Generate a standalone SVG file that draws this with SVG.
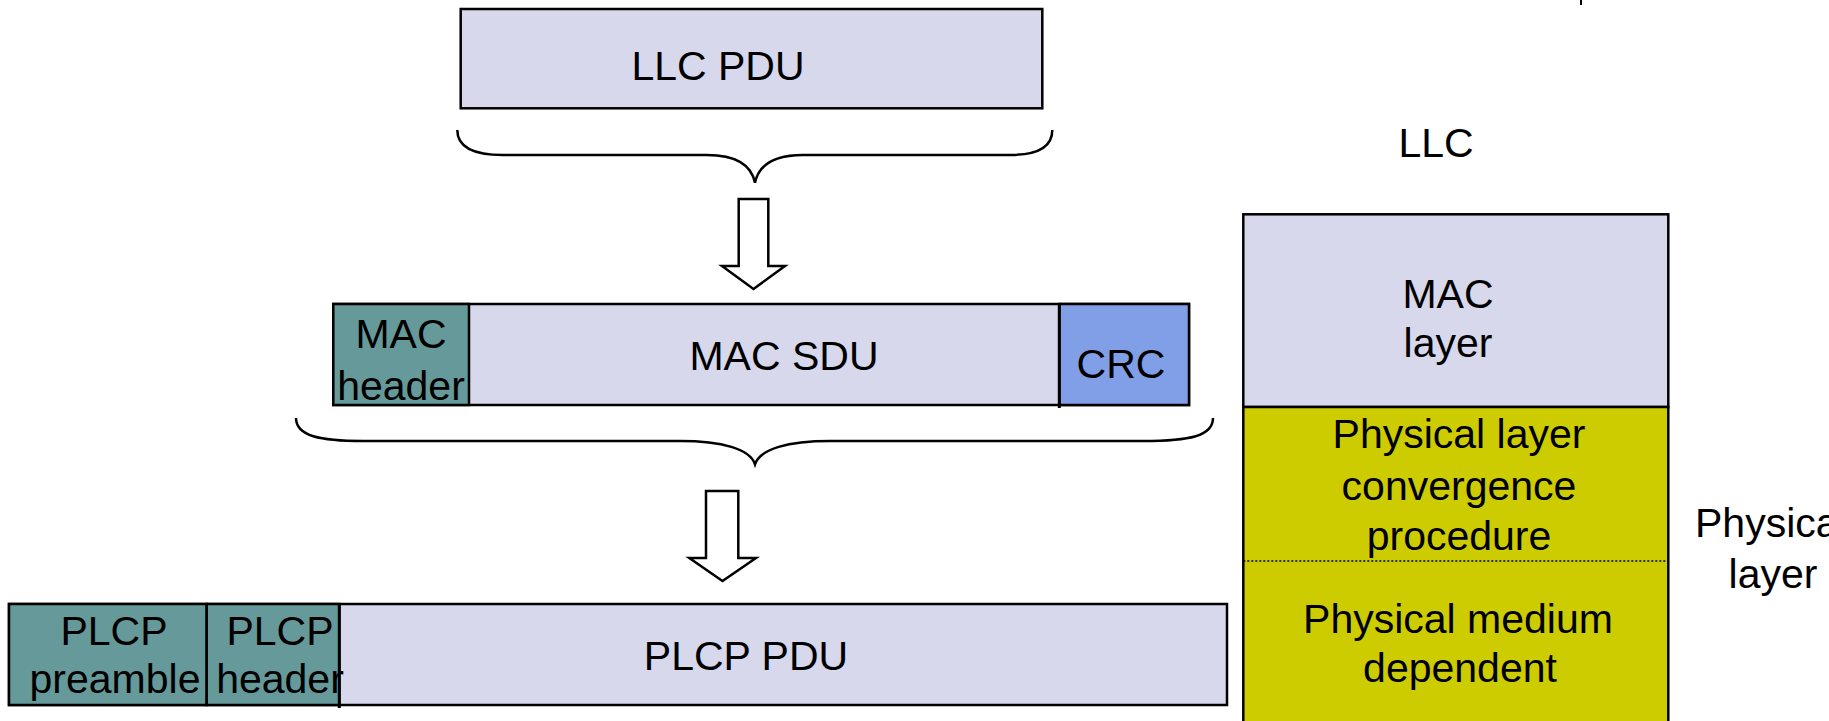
<svg xmlns="http://www.w3.org/2000/svg" width="1829" height="721" viewBox="0 0 1829 721">
  <style>
    text { font-family: "Liberation Sans", Arial, sans-serif; font-size: 41px; fill: #000; }
    .mid { text-anchor: middle; }
    .box { stroke: #000; stroke-width: 2.5; }
    .lav { fill: #D7D8EC; }
    .teal { fill: #669999; }
    .crc { fill: #809FE6; }
    .ylw { fill: #CCCC00; }
    .div { stroke: #000; stroke-width: 3; }
    .brace { fill: none; stroke: #000; stroke-width: 2.5; }
    .arrow { fill: #fff; stroke: #000; stroke-width: 2.5; stroke-linejoin: miter; }
  </style>

  <rect width="1829" height="721" fill="#fff"/>

  <!-- small stroke at the top edge -->
  <rect x="1580" y="0" width="2" height="5" fill="#000"/>

  <!-- LLC frame -->
  <g id="llc-pdu">
    <rect class="box lav" x="460.7" y="9" width="581.6" height="99.3"/>
    <text class="mid" x="718" y="80">LLC PDU</text>
  </g>

  <!-- MAC frame -->
  <g id="mac-frame">
    <rect class="box lav" x="333.3" y="304" width="855.7" height="101"/>
    <text class="mid" x="784" y="370">MAC SDU</text>
  </g>
  <g id="mac-header">
    <rect class="box teal" x="333.3" y="304" width="135.7" height="101"/>
    <text class="mid" x="401" y="348">MAC</text>
    <text class="mid" x="401" y="400">header</text>
  </g>
  <g id="crc">
    <rect class="box crc" x="1059.3" y="304" width="129.7" height="101"/>
    <line class="div" x1="1059.3" y1="303" x2="1059.3" y2="408"/>
    <text class="mid" x="1121" y="378">CRC</text>
  </g>

  <!-- PLCP frame -->
  <g id="plcp-frame">
    <rect class="box lav" x="9" y="604" width="1218" height="101"/>
    <text class="mid" x="746" y="670">PLCP PDU</text>
  </g>
  <g id="plcp-preamble">
    <rect class="box teal" x="9" y="604" width="197.7" height="101"/>
    <text class="mid" x="114" y="645">PLCP</text>
    <text class="mid" x="115" y="693">preamble</text>
  </g>
  <g id="plcp-header">
    <rect class="box teal" x="206.7" y="604" width="132.6" height="101"/>
    <line class="div" x1="339.3" y1="603" x2="339.3" y2="708"/>
    <text class="mid" x="280" y="645">PLCP</text>
    <text class="mid" x="280" y="693">header</text>
  </g>

  <!-- layer stack -->
  <g id="llc-label">
    <text class="mid" x="1436" y="157">LLC</text>
  </g>
  <g id="mac-layer">
    <rect class="box lav" x="1243.3" y="214.3" width="425" height="192.7"/>
    <text class="mid" x="1448" y="308">MAC</text>
    <text class="mid" x="1448" y="357">layer</text>
  </g>
  <g id="phy-layer">
    <rect class="box ylw" x="1243.3" y="407" width="425" height="330"/>
    <line x1="1243.3" y1="561" x2="1668.3" y2="561" stroke="#000" stroke-width="1.6" stroke-dasharray="2,2"/>
  </g>
  <g id="plcp-sublayer">
    <text class="mid" x="1459" y="448">Physical layer</text>
    <text class="mid" x="1459" y="500">convergence</text>
    <text class="mid" x="1459" y="550">procedure</text>
  </g>
  <g id="pmd-sublayer">
    <text class="mid" x="1458" y="633">Physical medium</text>
    <text class="mid" x="1460" y="682">dependent</text>
  </g>
  <g id="phy-label">
    <text x="1695" y="537">Physica</text>
    <text class="mid" x="1773" y="588">layer</text>
  </g>

  <!-- braces and arrows -->
  <g id="connectors">
    <path class="brace" d="M457.3,130 C457.3,148 475,155 503,155 L707,155 C735,155 751,164 755,182.7 C759,164 775,155 803,155 L1010,155 C1035,155 1052.3,148 1052.3,130"/>
    <polygon class="arrow" points="738.7,199 768.3,199 768.3,266 785,266 753.5,289 722,266 738.7,266"/>
    <path class="brace" d="M296,418 C296,436 320,441 363,441 L680,441 C722,441 750,449 755,464.3 C760,449 788,441 830,441 L1143,441 C1190,441 1213,436 1213,418"/>
    <polygon class="arrow" points="706,491 738.3,491 738.3,558 756,558 722.5,581 689.3,558 706,558"/>
  </g>
</svg>
